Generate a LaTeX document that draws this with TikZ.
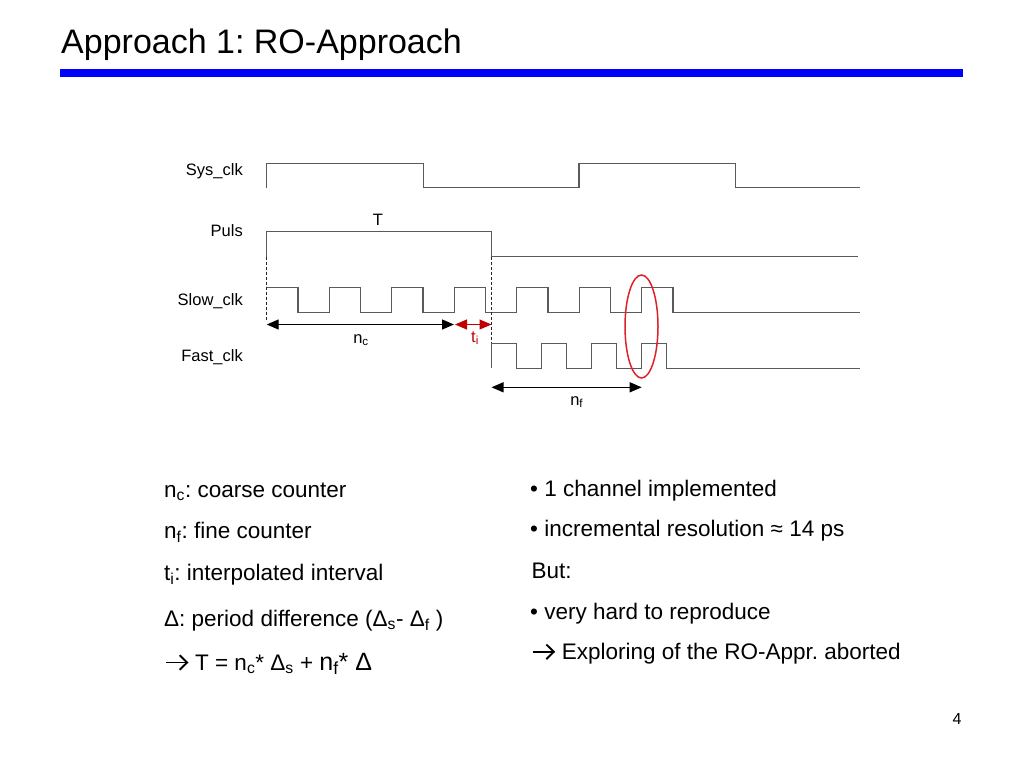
\documentclass[tikz,border=0pt]{standalone}
\usepackage{fontspec}
\setmainfont{Liberation Sans}
\usetikzlibrary{arrows.meta,shapes.geometric}
\definecolor{wavegray}{HTML}{5A5A5A}
\definecolor{darkred}{HTML}{C00000}
\definecolor{ellred}{HTML}{E0202A}
\definecolor{titleblue}{HTML}{0000FF}
\newcommand{\sbs}[1]{\textsubscript{#1}}
\newcommand{\arr}{\tikz[x=1pt,y=1pt,baseline=0pt]{\draw[line width=1.9pt] (0,7.5) -- (20.5,7.5); \draw[line width=1.9pt, line join=miter] (13.5,14.8) -- (21,7.5) -- (13.5,0.2);}\hspace{7pt}}
\frenchspacing
\begin{document}
\begin{tikzpicture}[x=1pt,y=-1pt,
  wave/.style={draw=wavegray, line width=1.2pt, line join=miter},
  guide/.style={draw=black!85, line width=0.8pt, dash pattern=on 3pt off 2pt},
  lbl/.style={font=\fontsize{16.5}{19}\selectfont, inner sep=0pt},
  body/.style={font=\fontsize{22.5}{27}\selectfont, inner sep=0pt, anchor=base west},
  meas/.style={line width=1.3pt, {Triangle[length=12pt,width=10pt]}-{Triangle[length=12pt,width=10pt]}},
]
\useasboundingbox (0,0) rectangle (1024,768);
\fill[white] (0,0) rectangle (1024,768);

% title
\node[anchor=base west, font=\fontsize{34}{40}\selectfont, inner sep=0pt] (title) at (61,53.3) {Approach 1: RO-Approach};
\fill[titleblue] (60,69.3) rectangle (963.3,77.3);

% signal labels
\node[lbl, anchor=base east] (sysl) at (243,175) {Sys\_clk};
\node[lbl, anchor=base east] (pulsl) at (243,236.7) {Puls};
\node[lbl, anchor=base east] (slowl) at (243,305) {Slow\_clk};
\node[lbl, anchor=base east] (fastl) at (243,361.7) {Fast\_clk};

% waveforms
\draw[wave] (266.7,187.5) -- (266.7,163.3) -- (423.3,163.3) -- (423.3,187.5) -- (579,187.5) -- (579,163.3) -- (735.3,163.3) -- (735.3,187.5) -- (860,187.5);
\draw[wave] (266.7,256.7) -- (266.7,231.7) -- (491.5,231.7) -- (491.5,256.7) -- (857.7,256.7);
\draw[wave] (266.7,287.3) \foreach \i in {1,...,6} { -- ++(31.25,0) -- ++(0,25.4) -- ++(31.25,0) -- ++(0,-25.4) } -- ++(31.25,0) -- ++(0,25.4) -- (860,312.7);
\draw[wave] (491.5,368.3) -- (491.5,343.3) \foreach \i in {1,...,3} { -- ++(25,0) -- ++(0,25) -- ++(25,0) -- ++(0,-25) } -- ++(25,0) -- ++(0,25) -- (860,368.3);

% guides
\coordinate (g1a) at (266.7,256.7);
\coordinate (g1b) at (266.7,321);
\coordinate (g2a) at (491.5,256.7);
\coordinate (g2b) at (491.5,343.3);
\draw[guide] (g1a) -- (g1b);
\draw[guide] (g2a) -- (g2b);

% measurement arrows
\coordinate (nc1) at (266.7,324.5);
\coordinate (nc2) at (454,324.5);
\coordinate (ti1) at (455,324.5);
\coordinate (ti2) at (491.5,324.5);
\coordinate (nf1) at (491.5,387.3);
\coordinate (nf2) at (641.7,387.3);
\draw[meas] (nc1) -- (nc2);
\draw[meas, draw=darkred, fill=darkred, line width=1pt] (ti1) -- (ti2);
\draw[meas] (nf1) -- (nf2);

\node[lbl, anchor=base] (Tl) at (378,225) {T};
\node[lbl, anchor=base] (ncl) at (361,343.3) {n\sbs{c}};
\node[lbl, anchor=base, text=darkred] (til) at (475,342) {t\sbs{i}};
\node[lbl, anchor=base] (nfl) at (576.7,405) {n\sbs{f}};

% ellipse
\node[draw=ellred, line width=1.5pt, ellipse, minimum width=33pt, minimum height=103pt, inner sep=0pt] (ell) at (641.5,326.5) {};

% left text
\node[body] (t1) at (164,497) {n\sbs{c}: coarse counter};
\node[body] (t2) at (164,538.3) {n\sbs{f}: fine counter};
\node[body] (t3) at (164,580) {t\sbs{i}: interpolated interval};
\node[body] (t4) at (164,626) {Δ: period difference (Δ\sbs{s}- Δ\sbs{f} )};
\node[body] (t5) at (165,670) {\arr T = n\sbs{c}* Δ\sbs{s} + {\fontsize{25}{30}\selectfont n\sbs{f}* Δ}};

% right text
\node[body] (r1) at (530,496.7) {• 1 channel implemented};
\node[body] (r2) at (530,536.7) {• incremental resolution ≈ 14 ps};
\node[body] (r3) at (531.5,578.3) {But:};
\node[body] (r4) at (530,619) {• very hard to reproduce};
\node[body] (r5) at (531.7,659.3) {\arr Exploring of the RO-Appr. aborted};

% page number
\node[font=\fontsize{16}{19}\selectfont, anchor=base, inner sep=0pt] (pg) at (957,724) {4};
\end{tikzpicture}
\end{document}
